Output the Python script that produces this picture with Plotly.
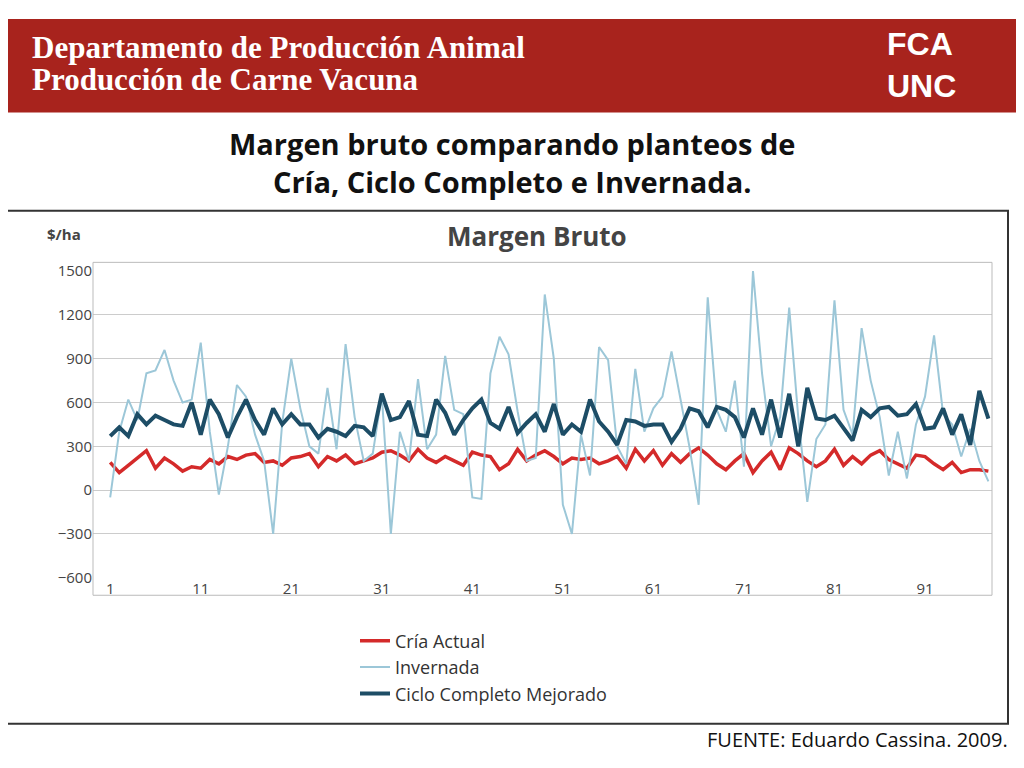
import plotly.graph_objects as go

periodos = list(range(1, 99))
cria = [190,120,170,220,270,150,220,180,130,160,
        150,210,180,230,210,240,250,190,200,170,
        220,230,250,160,230,200,240,180,200,220,
        260,270,240,200,280,220,190,230,200,170,
        260,240,230,140,180,280,200,240,270,230,
        180,220,210,220,180,200,230,150,280,200,
        270,170,250,190,250,290,240,180,140,200,
        250,120,200,260,140,290,250,200,160,200,
        280,170,230,180,240,270,210,180,150,240,
        230,180,140,190,120,140,140,130]
invernada = [-50,400,620,480,800,820,960,750,600,620,
             1010,400,-30,300,720,640,380,200,-300,460,
             900,560,300,250,700,280,1000,500,200,250,
             650,-300,400,200,760,280,380,920,550,520,
             -50,-60,800,1050,930,540,200,220,1340,900,
             -100,-300,380,100,980,890,300,180,830,400,
             560,640,950,620,290,-100,1320,550,400,750,
             160,1500,800,300,500,1250,500,-80,350,450,
             1300,550,380,1110,750,500,100,400,80,450,
             640,1060,520,450,230,420,200,60]
ciclo = [370,430,370,520,450,510,480,450,440,600,
         380,620,520,360,500,620,480,380,560,450,
         520,450,450,360,420,400,370,440,430,370,
         660,480,500,610,380,370,620,530,380,480,
         560,620,460,420,570,390,460,520,400,590,
         380,450,400,620,470,400,310,480,470,440,
         450,450,330,420,560,540,430,570,550,500,
         360,560,380,620,360,660,300,700,490,480,
         510,420,340,550,500,560,570,510,520,590,
         420,430,560,380,520,310,680,490]
x_ticks = [1, 11, 21, 31, 41, 51, 61, 71, 81, 91]
y_ticks = [-600, -300, 0, 300, 600, 900, 1200, 1500]

W, H, OFF = 1008, 752, 8
def px(X): return (X - OFF) / W
def py(Y): return 1 - (Y - OFF) / H

fig = go.Figure()
fig.add_trace(go.Scatter(x=periodos, y=cria, mode="lines", name="Cría Actual",
                         line=dict(color="#d42a2a", width=3.5)))
fig.add_trace(go.Scatter(x=periodos, y=invernada, mode="lines", name="Invernada",
                         line=dict(color="#9cc7d8", width=2)))
fig.add_trace(go.Scatter(x=periodos, y=ciclo, mode="lines", name="Ciclo Completo Mejorado",
                         line=dict(color="#1d4d66", width=4)))

fig.update_layout(
    width=W, height=H, margin=dict(l=0, r=0, t=0, b=0, pad=0),
    paper_bgcolor="white", plot_bgcolor="white",
    font=dict(family="Open Sans, Liberation Sans", color="#333"),
    xaxis=dict(domain=[px(93), px(992)], range=[-0.9, 98.4], tickvals=x_ticks,
               showgrid=False, zeroline=False, showline=False, ticks="",
               tickfont=dict(size=15, color="#444", family="Open Sans")),
    yaxis=dict(domain=[py(582), py(267)], range=[-600, 1500], tickvals=y_ticks,
               showgrid=True, gridcolor="#cccccc", zeroline=False, showline=False,
               tickfont=dict(size=15, color="#444", family="Open Sans")),
    legend=dict(x=px(355), y=py(628), xanchor="left", yanchor="top",
                font=dict(size=18, color="#333"), bgcolor="rgba(0,0,0,0)",
                tracegroupgap=0),
    shapes=[
        dict(type="rect", xref="paper", yref="paper", x0=0, x1=1, y0=py(104), y1=1,
             fillcolor="#a8231d", line=dict(width=0), layer="below"),
        dict(type="rect", xref="paper", yref="paper", x0=px(7), x1=px(1008),
             y0=py(732), y1=py(205), fillcolor="rgba(0,0,0,0)",
             line=dict(color="#333", width=2)),
        dict(type="rect", xref="paper", yref="paper", x0=px(93), x1=px(992),
             y0=py(600), y1=py(258), fillcolor="rgba(0,0,0,0)",
             line=dict(color="#bbbbbb", width=1)),
    ],
    annotations=[
        dict(text="<b>Departamento de Producción Animal</b>", x=px(30), y=py(37),
             xref="paper", yref="paper", xanchor="left", yanchor="middle", showarrow=False,
             font=dict(family="Liberation Serif", size=31, color="white")),
        dict(text="<b>Producción de Carne Vacuna</b>", x=px(30), y=py(70),
             xref="paper", yref="paper", xanchor="left", yanchor="middle", showarrow=False,
             font=dict(family="Liberation Serif", size=31, color="white")),
        dict(text="<b>FCA<br>UNC</b>", x=px(885), y=py(55), xref="paper", yref="paper",
             xanchor="left", yanchor="middle", showarrow=False, align="left",
             font=dict(family="Liberation Sans", size=32, color="white")),
        dict(text="<b>Margen bruto comparando planteos de<br>Cría, Ciclo Completo e Invernada.</b>",
             x=0.5, y=py(155), xref="paper", yref="paper", showarrow=False, yanchor="middle",
             font=dict(family="Open Sans", size=29, color="#111")),
        dict(text="<b>Margen Bruto</b>", x=px(537), y=py(231), xref="paper", yref="paper",
             showarrow=False, yanchor="middle", font=dict(family="Open Sans", size=26, color="#444")),
        dict(text="<b>$/ha</b>", x=px(45), y=py(229), xref="paper", yref="paper",
             showarrow=False, yanchor="middle", font=dict(family="Open Sans", size=15, color="#444")),
        dict(text="FUENTE: Eduardo Cassina. 2009.", x=px(1010), y=py(748),
             xref="paper", yref="paper", xanchor="right", yanchor="middle", showarrow=False,
             font=dict(family="Open Sans", size=20, color="#111")),
    ],
)
fig.write_html("out.html")
